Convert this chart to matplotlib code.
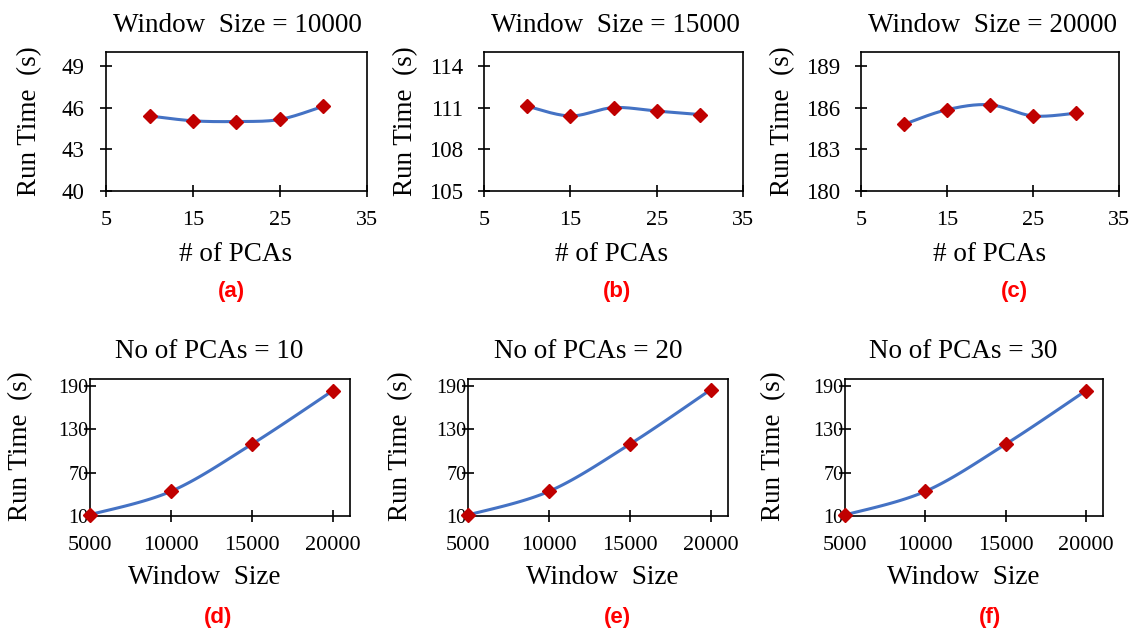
import numpy as np
import matplotlib.pyplot as plt

plt.rcParams['font.family'] = ['Liberation Serif', 'DejaVu Serif']

W, H = 1135, 632

# top row: run time vs number of PCAs
pcas = [10, 15, 20, 25, 30]
run_ws10000 = [45.4, 45.05, 45.0, 45.15, 46.1]
run_ws15000 = [111.1, 110.4, 111.0, 110.75, 110.5]
run_ws20000 = [184.8, 185.85, 186.2, 185.4, 185.6]
pca_ticks = [5, 15, 25, 35]

# bottom row: run time vs window size
windows = [5000, 10000, 15000, 20000]
run_pca10 = [11.8, 44.2, 109.7, 184.0]
run_pca20 = [11.4, 44.2, 109.7, 185.4]
run_pca30 = [11.4, 44.2, 109.7, 184.0]
win_ticks = [5000, 10000, 15000, 20000]
win_yticks = [10, 70, 130, 190]

LINE = '#4472C4'
MARK = '#C00000'


def px_rect(l, t, r, b):
    return [l / W, 1 - b / H, (r - l) / W, (b - t) / H]


def ftext(x, y, s, **kw):
    fig.text(x / W, 1 - y / H, s, ha='center', va='center', **kw)


def smooth_line(ax, x, y):
    # excel-like smoothed line (bezier through the points, in screen space)
    x0, x1 = ax.get_xlim()
    y0, y1 = ax.get_ylim()
    pos = ax.get_position()
    bw, bh = pos.width * W, pos.height * H
    p = np.column_stack([(np.array(x) - x0) / (x1 - x0) * bw,
                         (np.array(y) - y0) / (y1 - y0) * bh])
    e = np.vstack([p[0], p, p[-1]])
    t = np.linspace(0, 1, 40)[:, None]
    segs = []
    for i in range(len(p) - 1):
        a, b, c, d = e[i], e[i + 1], e[i + 2], e[i + 3]
        c1 = b + (c - a) / 6
        c2 = c - (d - b) / 6
        segs.append((1 - t) ** 3 * b + 3 * (1 - t) ** 2 * t * c1
                    + 3 * (1 - t) * t ** 2 * c2 + t ** 3 * c)
    cur = np.vstack(segs)
    ax.plot(x0 + cur[:, 0] / bw * (x1 - x0), y0 + cur[:, 1] / bh * (y1 - y0),
            color=LINE, lw=2.2, zorder=2, solid_capstyle='round')
    ax.plot(x, y, 'D', color=MARK, ms=7.5, zorder=3, clip_on=False)


def setup(ax, xlim, ylim, xt, yt, xfs, yfs, xpad, ypad):
    ax.set_xlim(*xlim)
    ax.set_ylim(*ylim)
    ax.set_xticks(xt)
    ax.set_yticks(yt)
    ax.tick_params(axis='both', direction='inout', length=8.5, width=1.2,
                   color='black')
    ax.tick_params(axis='x', labelsize=xfs, pad=xpad)
    ax.tick_params(axis='y', labelsize=yfs, pad=ypad)
    for s in ax.spines.values():
        s.set_linewidth(1.2)
        s.set_color('black')


fig = plt.figure(figsize=(W / 100, H / 100), dpi=100)

top = [
    (px_rect(106, 52, 367, 191), run_ws10000, (40, 50), [40, 43, 46, 49], '10000'),
    (px_rect(484, 52, 743, 191), run_ws15000, (105, 115), [105, 108, 111, 114], '15000'),
    (px_rect(861, 52, 1119, 191), run_ws20000, (180, 190), [180, 183, 186, 189], '20000'),
]
top_title_x = [237, 615, 993]
top_xlab_x = [236, 612, 990]
top_ylab_x = [30, 406, 783]
top_letter_x = [231, 617, 1014]

for i, (rect, vals, yl, yt, ws) in enumerate(top):
    ax = fig.add_axes(rect)
    setup(ax, (5, 35), yl, pca_ticks, yt, 16, 16.5, 10.5, 11)
    smooth_line(ax, pcas, vals)
    ftext(top_title_x[i], 25, 'Window  Size = ' + ws, fontsize=19.5)
    ftext(top_xlab_x[i], 255, '# of PCAs', fontsize=19.5)
    ftext(top_ylab_x[i], 121, 'Run Time  (s)', fontsize=19.5, rotation=90)
    ftext(top_letter_x[i], 292, '(' + 'abc'[i] + ')', fontsize=16,
          color='#FF0000', fontweight='bold', family='Liberation Sans')

bottom = [
    (px_rect(90, 379, 350, 516), run_pca10, '10'),
    (px_rect(468, 379, 728, 516), run_pca20, '20'),
    (px_rect(845, 379, 1103, 516), run_pca30, '30'),
]
bot_title_x = [209, 588, 963]
bot_xlab_x = [204, 602, 963]
bot_ylab_x = [21, 401, 774]
bot_letter_x = [218, 617, 990]

for i, (rect, vals, n) in enumerate(bottom):
    ax = fig.add_axes(rect)
    setup(ax, (5000, 21050), (10, 200), win_ticks, win_yticks, 16, 14.5, 10.5, -3)
    smooth_line(ax, windows, vals)
    ftext(bot_title_x[i], 352, 'No of PCAs = ' + n, fontsize=19.5)
    ftext(bot_xlab_x[i], 578, 'Window  Size', fontsize=19.5)
    ftext(bot_ylab_x[i], 446, 'Run Time  (s)', fontsize=19.5, rotation=90)
    ftext(bot_letter_x[i], 618, '(' + 'def'[i] + ')', fontsize=16,
          color='#FF0000', fontweight='bold', family='Liberation Sans')

fig.savefig('out.png', dpi=100)
